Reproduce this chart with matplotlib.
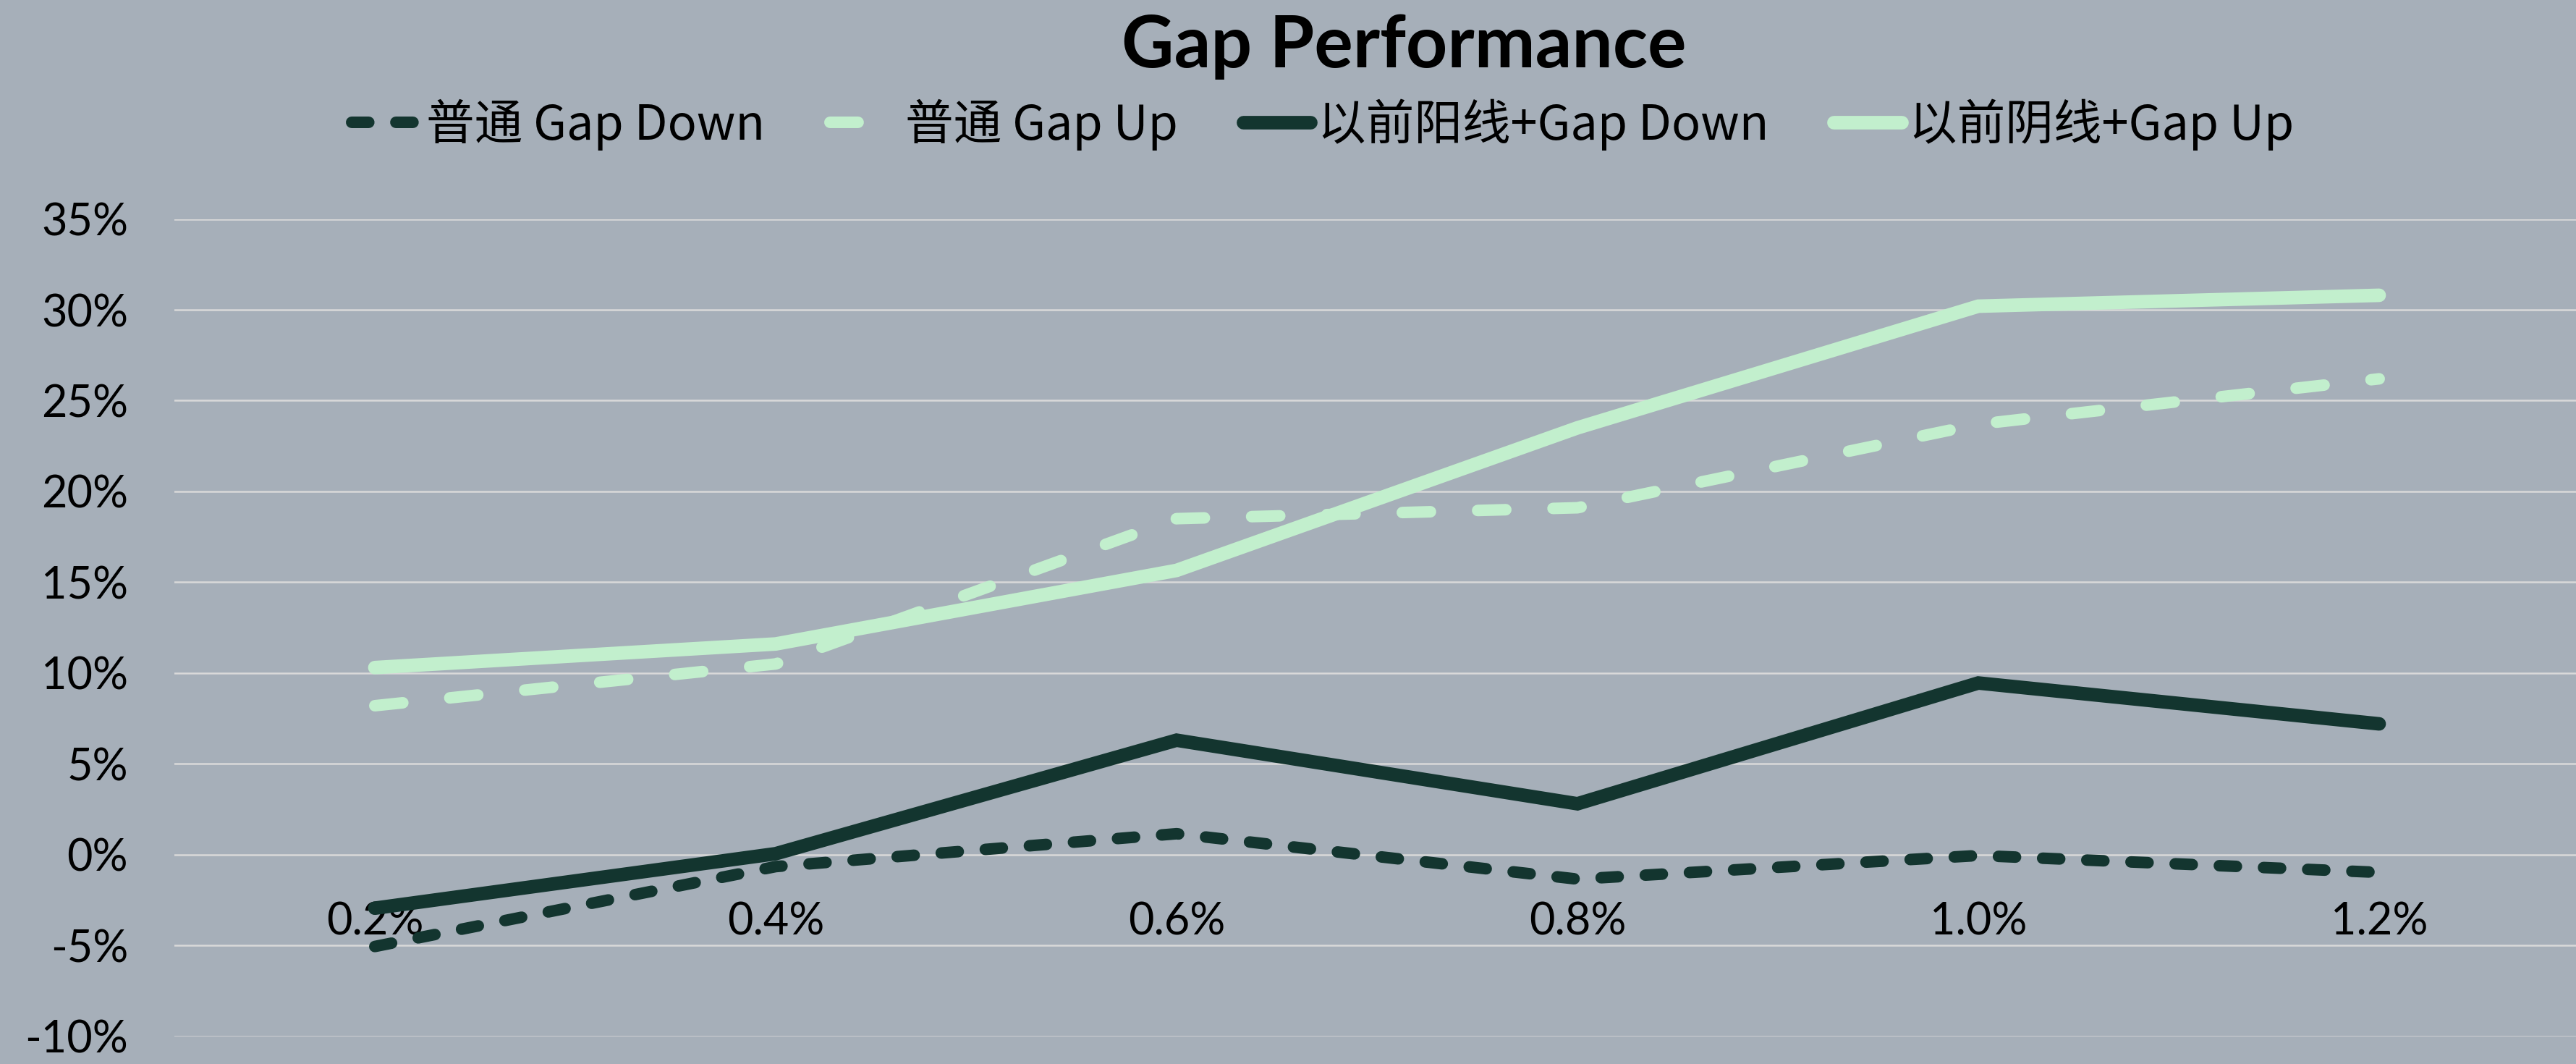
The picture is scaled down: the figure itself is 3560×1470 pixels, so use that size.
import matplotlib
matplotlib.use("Agg")
import matplotlib.pyplot as plt
from matplotlib.ticker import PercentFormatter

# datos
categorias = ["0.2%", "0.4%", "0.6%", "0.8%", "1.0%", "1.2%"]
normal_down = [-0.0506, -0.0066, 0.0115, -0.0135, -0.0005, -0.0098]
normal_up = [0.082, 0.105, 0.185, 0.191, 0.237, 0.262]
yang_down = [-0.0295, 0.0005, 0.063, 0.028, 0.0945, 0.072]
yin_up = [0.103, 0.116, 0.1565, 0.235, 0.302, 0.308]
nombres = ["普通 Gap Down", "普通 Gap Up", "以前阳线+Gap Down", "以前阴线+Gap Up"]
yticks = [-0.10, -0.05, 0.0, 0.05, 0.10, 0.15, 0.20, 0.25, 0.30, 0.35]

FONDO = "#A6AFB9"
OSCURO = "#13352F"
CLARO = "#C2EFCD"

plt.rcParams["lines.scale_dashes"] = False
plt.rcParams["axes.unicode_minus"] = False

fig = plt.figure(figsize=(35.6, 14.7), dpi=100, facecolor=FONDO)
ax = fig.add_axes([241 / 3560, 38.4 / 1470, 3324 / 3560, 1129 / 1470])
ax.set_facecolor(FONDO)

x = list(range(len(categorias)))
ax.plot(x, normal_down, color=OSCURO, lw=11.5, linestyle=(0, (17, 27)),
        dash_capstyle="round", solid_capstyle="round", label=nombres[0], zorder=3)
ax.plot(x, normal_up, color=CLARO, lw=11.5, linestyle=(0, (28, 47)),
        dash_capstyle="round", solid_capstyle="round", label=nombres[1], zorder=4)
ax.plot(x, yang_down, color=OSCURO, lw=13.5, solid_capstyle="round",
        solid_joinstyle="miter", label=nombres[2], zorder=5)
ax.plot(x, yin_up, color=CLARO, lw=13.5, solid_capstyle="round",
        solid_joinstyle="miter", label=nombres[3], zorder=6)

ax.set_xlim(-0.5, 5.5)
ax.set_ylim(-0.10, 0.35)
ax.set_yticks(yticks)
ax.yaxis.set_major_formatter(PercentFormatter(1.0, decimals=0))
ax.grid(axis="y", color="#D9D9D9", lw=1.8, zorder=0)
ax.set_axisbelow(True)
for s in ax.spines.values():
    s.set_visible(False)

# etiquetas de categoria debajo de la linea del 0
ax.set_xticks(x)
ax.set_xticklabels(categorias)
ax.spines["bottom"].set_position(("data", 0))
ax.tick_params(axis="x", length=0, pad=47, labelsize=44, labelcolor="black")
ax.tick_params(axis="y", length=0, pad=46, labelsize=44, labelcolor="black")
for lab in ax.get_xticklabels() + ax.get_yticklabels():
    lab.set_family(["Lato", "DejaVu Sans"])

fig.text(1940 / 3560, 1 - 64 / 1470, "Gap Performance", ha="center", va="center",
         fontsize=72, fontweight="bold", family=["Lato", "DejaVu Sans"])

leg = fig.legend(loc="center", bbox_to_anchor=(1828 / 3560, 1 - 172 / 1470), ncol=4,
                 frameon=False, handlelength=1.4, handletextpad=0.15, columnspacing=1.35,
                 prop={"family": ["Noto Sans CJK SC", "DejaVu Sans"], "size": 48})

fig.savefig("out.png", dpi=100, facecolor=FONDO)
